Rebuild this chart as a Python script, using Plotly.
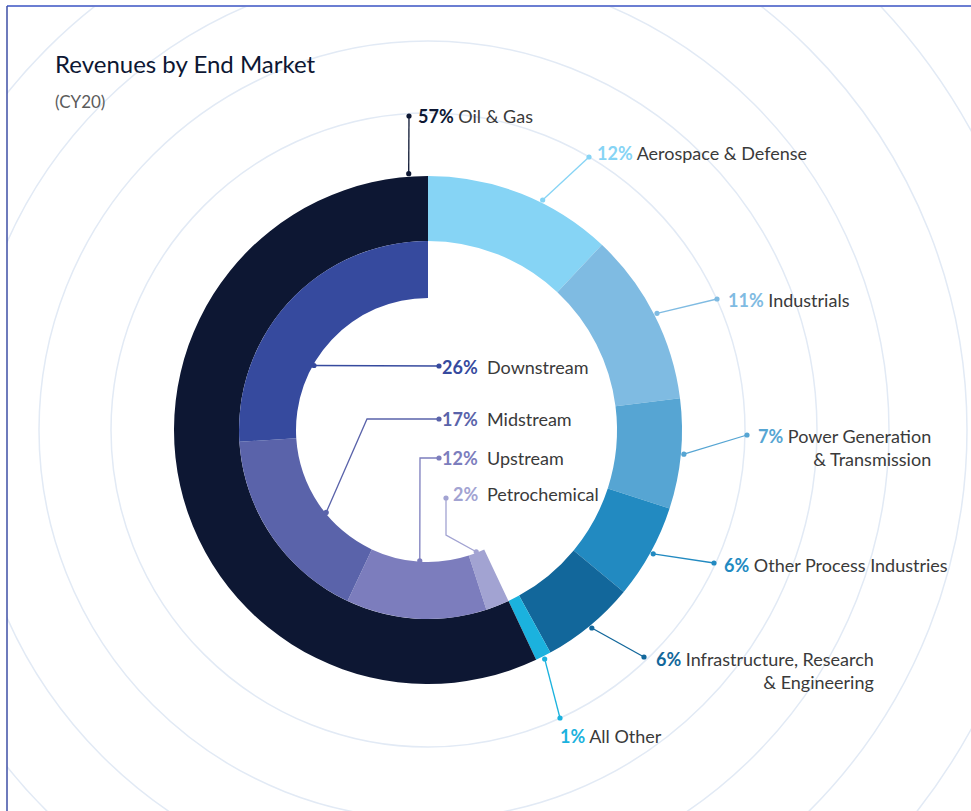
import math

import plotly.graph_objects as go

# outer ring: revenue by end market, clockwise from 12 o'clock
markets = [
    "Aerospace & Defense",
    "Industrials",
    "Power Generation & Transmission",
    "Other Process Industries",
    "Infrastructure, Research & Engineering",
    "All Other",
    "Oil & Gas",
]
market_pct = [12, 11, 7, 6, 6, 1, 57]
market_colors = ["#86d4f5", "#7fbbe2", "#56a5d3", "#228ac1", "#12679b", "#1bb2de", "#0d1733"]

# inner ring: oil & gas split, counter-clockwise from 12 o'clock
segments = ["Downstream", "Midstream", "Upstream", "Petrochemical"]
segment_pct = [26, 17, 12, 2]
segment_colors = ["#364a9e", "#5a63aa", "#7c7dbd", "#a2a3d2"]

title = "Revenues by End Market"
subtitle = "(CY20)"

# page geometry (pixels)
W, H = 971, 811
L, T = 7, 6
CX, CY = 428, 430
R_OUT, R_MID, R_IN = 254, 189, 132
RINGS = [317, 389, 461, 539, 620]

FONT = "Lato, Roboto, sans-serif"
NAME_COLOR = "#3a3a3a"
LABEL_SIZE = 18

# label placement: anchor angle override, leader path after the anchor, text spot
OUTER_LABELS = {
    "Oil & Gas": dict(angle=-4.3, path=[(409, 116)], text=(416, 116)),
    "Aerospace & Defense": dict(angle=26.5, path=[(589, 157)], text=(595, 153)),
    "Industrials": dict(path=[(717, 299)], text=(726, 300)),
    "Power Generation & Transmission": dict(path=[(747, 435)], text=(756, 447),
                                            wrap="Power Generation<br>& Transmission"),
    "Other Process Industries": dict(path=[(714, 563)], text=(722, 565)),
    "Infrastructure, Research & Engineering": dict(path=[(644, 657)], text=(654, 670),
                                                   wrap="Infrastructure, Research<br>& Engineering"),
    "All Other": dict(path=[(560, 718)], text=(558, 736)),
}
INNER_LABELS = {
    "Downstream": dict(angle=60.5, path=[(439, 366)], text_y=367),
    "Midstream": dict(angle=129, path=[(367, 419), (439, 419)], text_y=419),
    "Upstream": dict(path=[(420, 458), (439, 458)], text_y=458),
    "Petrochemical": dict(path=[(446, 535), (446, 498)], text_y=494),
}


def domain(r):
    return dict(
        x=[(CX - r - L) / (W - L), (CX + r - L) / (W - L)],
        y=[(H - CY - r) / (H - T), (H - CY + r) / (H - T)],
    )


def mid_angles(values):
    out, acc = [], 0
    for v in values:
        out.append((acc + v / 2) / 100 * 360)
        acc += v
    return out


fig = go.Figure()

fig.add_trace(go.Scatter(x=[], y=[], showlegend=False, hoverinfo="skip"))

fig.add_trace(
    go.Pie(
        labels=markets,
        values=market_pct,
        marker=dict(colors=market_colors, line=dict(width=0)),
        hole=R_MID / R_OUT,
        sort=False,
        direction="clockwise",
        rotation=0,
        textinfo="none",
        hoverinfo="label+percent",
        showlegend=False,
        domain=domain(R_OUT),
    )
)

# inner ring drawn clockwise: empty gap first, then the oil & gas parts in reverse
fig.add_trace(
    go.Pie(
        labels=[" "] + segments[::-1],
        values=[100 - sum(segment_pct)] + segment_pct[::-1],
        marker=dict(colors=["rgba(0,0,0,0)"] + segment_colors[::-1], line=dict(width=0)),
        hole=R_IN / R_MID,
        sort=False,
        direction="clockwise",
        rotation=0,
        textinfo="none",
        hoverinfo="label",
        showlegend=False,
        domain=domain(R_MID),
    )
)

shapes = []
# faint concentric rings behind the chart
for r in RINGS:
    shapes.append(dict(type="circle", xref="x", yref="y", x0=CX - r, x1=CX + r, y0=CY - r, y1=CY + r,
                       line=dict(color="#e2eaf5", width=1.5), layer="below"))

# frame
shapes.append(dict(type="line", xref="paper", yref="paper", x0=0, x1=1, y0=1, y1=1,
                   line=dict(color="#6b7ed2", width=2)))
shapes.append(dict(type="line", xref="paper", yref="paper", x0=0, x1=0, y0=0, y1=1,
                   line=dict(color="#3e4fa6", width=1.5)))

annotations = [
    dict(text=title, x=53, y=63, xref="x", yref="y", xanchor="left", yanchor="middle", showarrow=False,
         font=dict(family=FONT, size=24, color="#0d1733")),
    dict(text=subtitle, x=53, y=101, xref="x", yref="y", xanchor="left", yanchor="middle", showarrow=False,
         font=dict(family=FONT, size=17, color="#5b5b5b")),
]


def leader(points, color):
    d = "M " + " L ".join(f"{x:.1f},{y:.1f}" for x, y in points)
    shapes.append(dict(type="path", xref="x", yref="y", path=d, line=dict(color=color, width=1.3), layer="above"))
    for x, y in (points[0], points[-1]):
        shapes.append(dict(type="circle", xref="x", yref="y", x0=x - 2.6, x1=x + 2.6, y0=y - 2.6, y1=y + 2.6,
                           fillcolor=color, line=dict(width=0), layer="above"))


for name, pct, color, ang in zip(markets, market_pct, market_colors, mid_angles(market_pct)):
    spec = OUTER_LABELS[name]
    a = math.radians(spec.get("angle", ang))
    anchor = (CX + 257 * math.sin(a), CY - 257 * math.cos(a))
    leader([anchor] + spec["path"], color)
    tx, ty = spec["text"]
    annotations.append(
        dict(text=f"<span style='color:{color}'><b>{pct}%</b></span> {spec.get('wrap', name)}",
             x=tx, y=ty, xref="x", yref="y", xanchor="left", yanchor="middle", align="right",
             showarrow=False, font=dict(family=FONT, size=LABEL_SIZE, color=NAME_COLOR))
    )

for name, pct, color, ang in zip(segments, segment_pct, segment_colors, mid_angles(segment_pct)):
    spec = INNER_LABELS[name]
    a = math.radians(spec.get("angle", ang))
    anchor = (CX - 131 * math.sin(a), CY - 131 * math.cos(a))
    leader([anchor] + spec["path"], color)
    annotations.append(
        dict(text=f"<b>{pct}%</b>", x=480, y=spec["text_y"], xref="x", yref="y", xanchor="right",
             yanchor="middle", showarrow=False, font=dict(family=FONT, size=LABEL_SIZE, color=color))
    )
    annotations.append(
        dict(text=name, x=485, y=spec["text_y"], xref="x", yref="y", xanchor="left",
             yanchor="middle", showarrow=False, font=dict(family=FONT, size=LABEL_SIZE, color=NAME_COLOR))
    )

fig.update_layout(
    width=W,
    height=H,
    margin=dict(l=L, r=0, t=T, b=0),
    paper_bgcolor="white",
    plot_bgcolor="rgba(0,0,0,0)",
    xaxis=dict(range=[L, W], visible=False, fixedrange=True),
    yaxis=dict(range=[H, T], visible=False, fixedrange=True),
    shapes=shapes,
    annotations=annotations,
    showlegend=False,
)

fig.write_html("out.html", config={"displayModeBar": False},
               post_script="document.body.style.margin='0';")
